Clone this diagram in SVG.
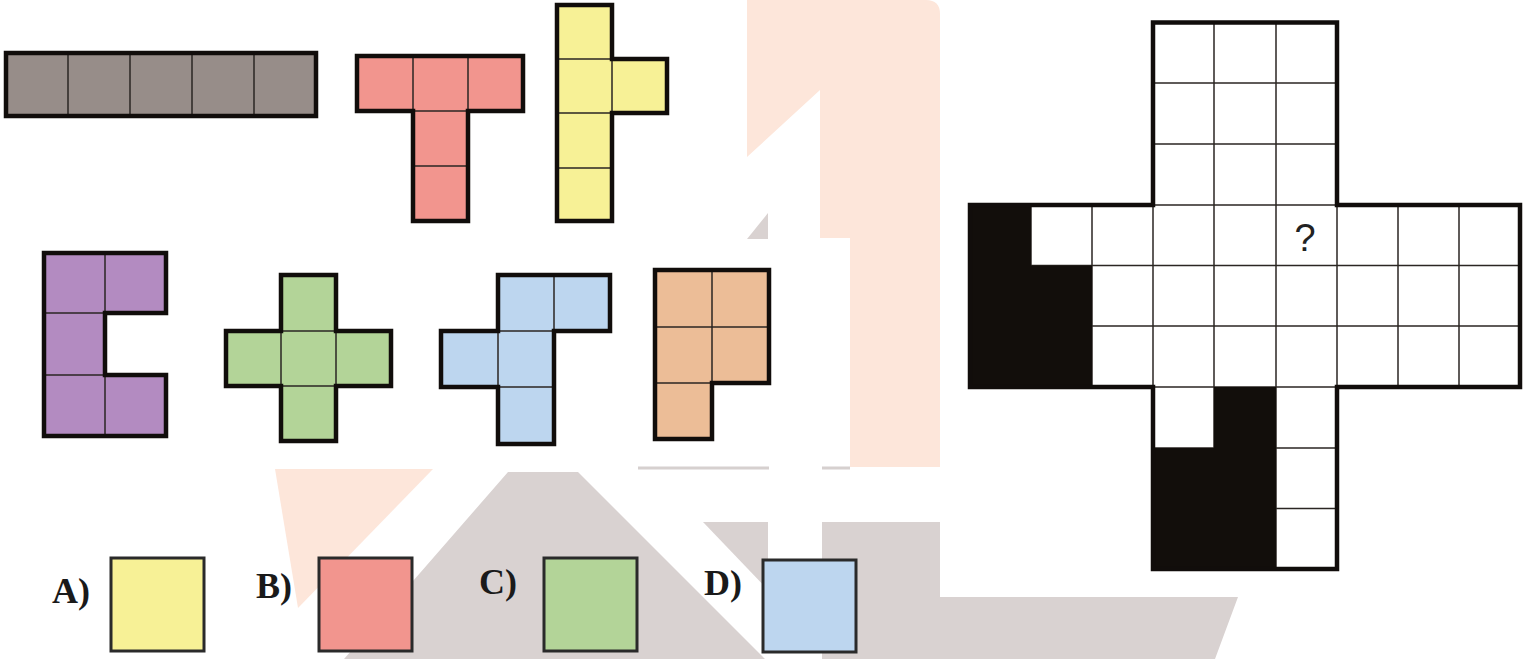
<svg xmlns="http://www.w3.org/2000/svg" width="1534" height="659" viewBox="0 0 1534 659">
<style>
.peach{fill:#fde6da}
.wgrey{fill:#d9d2d1}
.wline{stroke:#d6d0cf;stroke-width:3;fill:none}
.in{fill:none;stroke:#2b2623;stroke-width:1.5}
.out{fill:none;stroke:#110d0b;stroke-width:4.5;stroke-linejoin:miter}
.opt{stroke:#2a2a2a;stroke-width:3}
.lbl{font-family:"Liberation Serif",serif;font-weight:bold;font-size:36px;fill:#1a1a1a}
.q{font-family:"Liberation Sans",Arial,sans-serif;font-size:38px;fill:#222}
.blk{fill:#120e0b}
</style>
<rect width="1534" height="659" fill="#ffffff"/>
<g id="watermark">
<path class="peach" d="M747,0 H926 Q940,0 940,14 V467 H850 V238 H820 V90 L747,157 Z"/>
<polygon class="peach" points="275,469 433,469 298,608"/>
<polygon class="wgrey" points="508,472 578,472 765,659 344,659 420,573"/>
<polygon class="wgrey" points="703,522 768,522 768,590"/>
<polygon class="wgrey" points="822,522 940,522 940,597 1238,597 1215,659 822,659"/>
<polygon class="wgrey" points="747,239 768,213 768,239"/>
<path class="wline" d="M638,468 H769 M822,468 H850"/>
</g>
<g id="piece-grey">
<rect x="6" y="53" width="310" height="63" fill="#978d89"/>
<path class="in" d="M68,53 V116 M130,53 V116 M192,53 V116 M254,53 V116"/>
<rect class="out" x="6" y="53" width="310" height="63"/>
</g>
<g id="piece-red">
<path d="M357,56 H523 V111 H468 V221 H413 V111 H357 Z" fill="#f2958e"/>
<path class="in" d="M413,56 V111 M468,56 V111 M413,111 H468 M413,166 H468"/>
<path class="out" d="M357,56 H523 V111 H468 V221 H413 V111 H357 Z"/>
</g>
<g id="piece-yellow">
<path d="M557,5 H612 V59 H667 V113 H612 V221 H557 Z" fill="#f7f196"/>
<path class="in" d="M557,59 H612 M557,113 H612 M557,168 H612 M612,59 V113"/>
<path class="out" d="M557,5 H612 V59 H667 V113 H612 V221 H557 Z"/>
</g>
<g id="piece-purple">
<path d="M44,253 H166 V313 H105 V375 H166 V436 H44 Z" fill="#b38bc1"/>
<path class="in" d="M105,253 V313 M105,375 V436 M44,313 H105 M44,375 H105"/>
<path class="out" d="M44,253 H166 V313 H105 V375 H166 V436 H44 Z"/>
</g>
<g id="piece-green">
<path d="M281,275 H336 V331 H391 V386 H336 V441 H281 V386 H226 V331 H281 Z" fill="#b3d498"/>
<path class="in" d="M281,331 H336 M281,386 H336 M281,331 V386 M336,331 V386"/>
<path class="out" d="M281,275 H336 V331 H391 V386 H336 V441 H281 V386 H226 V331 H281 Z"/>
</g>
<g id="piece-blue">
<path d="M498,275 H610 V331 H554 V444 H498 V387 H441 V331 H498 Z" fill="#bdd6ef"/>
<path class="in" d="M554,275 V331 M498,331 H554 M498,331 V387 M498,387 H554"/>
<path class="out" d="M498,275 H610 V331 H554 V444 H498 V387 H441 V331 H498 Z"/>
</g>
<g id="piece-orange">
<path d="M655,270 H769 V383 H712 V439 H655 Z" fill="#ecbd97"/>
<path class="in" d="M712,270 V383 M655,327 H769 M655,383 H712"/>
<path class="out" d="M655,270 H769 V383 H712 V439 H655 Z"/>
</g>
<g id="board">
<path d="M1153,22.5 H1337 V205 H1520 V387 H1337 V569 H1153 V387 H970 V205 H1153 Z" fill="#ffffff"/>
<path class="in" d="M1214,22.5 V205 M1276,22.5 V205 M1153,83 H1337 M1153,144 H1337 M1153,205 H1337
M1031,205 V387 M1092,205 V387 M1153,205 V387 M1214,205 V387 M1276,205 V387 M1337,205 V387 M1398,205 V387 M1459,205 V387
M970,265.5 H1520 M970,326 H1520 M1153,387 H1337
M1214,387 V569 M1276,387 V569 M1153,448 H1337 M1153,508.5 H1337"/>
<rect class="blk" x="970" y="205" width="61" height="182"/>
<rect class="blk" x="1031" y="265.5" width="61" height="121.5"/>
<rect class="blk" x="1214" y="387" width="62" height="61"/>
<rect class="blk" x="1153" y="448" width="123" height="121"/>
<path class="out" d="M1153,22.5 H1337 V205 H1520 V387 H1337 V569 H1153 V387 H970 V205 H1153 Z"/>
<text class="q" x="1305" y="251" text-anchor="middle">?</text>
</g>
<g id="option-a">
<text class="lbl" x="52" y="603">A)</text>
<rect class="opt" x="111" y="558" width="93" height="93" fill="#f7f196"/>
</g>
<g id="option-b">
<text class="lbl" x="256" y="598">B)</text>
<rect class="opt" x="319" y="558" width="93" height="93" fill="#f2958e"/>
</g>
<g id="option-c">
<text class="lbl" x="479" y="594">C)</text>
<rect class="opt" x="544" y="558" width="93" height="93" fill="#b3d498"/>
</g>
<g id="option-d">
<text class="lbl" x="704" y="595">D)</text>
<rect class="opt" x="763" y="560" width="93" height="92" fill="#bdd6ef"/>
</g>
</svg>
